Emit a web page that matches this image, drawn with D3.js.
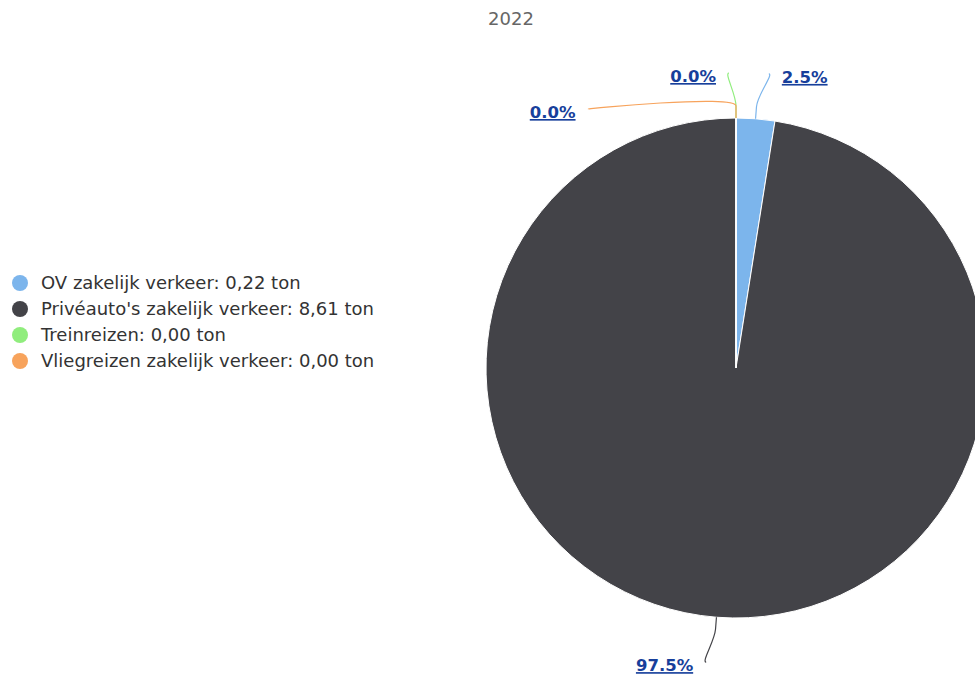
<!DOCTYPE html>
<html>
<head>
<meta charset="utf-8">
<script src="https://cdn.jsdelivr.net/npm/d3@7"></script>
<style>
  body { margin: 0; background: #fff; }
  svg { display: block; font-family: "DejaVu Sans", sans-serif; }
</style>
</head>
<body>
<svg id="chart" width="975" height="677"></svg>
<script>
// data
var title = '2022';
var categories = ['OV zakelijk verkeer', "Privéauto's zakelijk verkeer", 'Treinreizen', 'Vliegreizen zakelijk verkeer'];
var values = [0.22, 8.61, 0.00, 0.00];
var colors = ['#7cb5ec', '#434348', '#90ed7d', '#f7a35c'];

var svg = d3.select('#chart'),
    cx = 736,
    cy = 368,
    radius = 250,
    labelDistance = 42,
    labelGap = 36;

var total = d3.sum(values);
var rows = categories.map(function(c, i) { return {name: c, value: values[i], color: colors[i]}; });

// title
svg.append('text')
    .attr('x', 511)
    .attr('y', 25)
    .attr('text-anchor', 'middle')
    .attr('fill', '#666')
    .style('font-size', '18px')
    .text(title);

// pie
var pie = d3.pie().sort(null).value(function(d) { return d.value; });
var arcs = pie(rows);
var arc = d3.arc().innerRadius(0).outerRadius(radius);

var g = svg.append('g').attr('transform', 'translate(' + cx + ',' + cy + ')');

g.selectAll('path.slice').data(arcs).enter()
  .append('path')
    .attr('class', 'slice')
    .attr('d', arc)
    .attr('fill', function(d) { return d.data.color; })
    .attr('stroke', '#fff')
    .attr('stroke-width', 1)
    .attr('stroke-linejoin', 'round');

// label positions (highcharts-ish: on a circle of radius + distance, pushed apart per side)
var R = radius + labelDistance;
arcs.forEach(function(d) {
    var a = (d.startAngle + d.endAngle) / 2;
    d.mid = a;
    d.side = (a < Math.PI) ? 1 : -1;
    d.ly = -R * Math.cos(a);
    d.touch = [radius * Math.sin(a), -radius * Math.cos(a)];
    d.brk = [(radius + 12) * Math.sin(a), -(radius + 12) * Math.cos(a)];
});
[1, -1].forEach(function(side) {
    var list = arcs.filter(function(d) { return d.side === side; })
        .sort(function(a, b) { return a.ly - b.ly; });
    for (var i = 1; i < list.length; i++) {
        if (list[i].ly - list[i - 1].ly < labelGap) list[i].ly = list[i - 1].ly + labelGap;
    }
});
arcs.forEach(function(d) {
    var dy = Math.min(Math.abs(d.ly), R);
    var pad = d.side > 0 ? 23 : 20;
    d.lx = d.side * (Math.sqrt(R * R - dy * dy) + pad);
    // lower half labels sit a bit further out
    d.ty = d.ly + (d.ly > 0 ? 6 : 0);
});

var fmtPct = d3.format('.1f');

g.selectAll('path.connector').data(arcs).enter()
  .append('path')
    .attr('class', 'connector')
    .attr('fill', 'none')
    .attr('stroke', function(d) { return d.data.color; })
    .attr('stroke-width', 1.2)
    .attr('d', function(d) {
        var x0 = d.lx - d.side * 13, y0 = d.ty - 3;
        return 'M' + x0 + ',' + y0 +
            'C' + (x0 + d.side * 5) + ',' + y0 + ' ' +
            (2 * d.brk[0] - d.touch[0]) + ',' + (2 * d.brk[1] - d.touch[1]) + ' ' +
            d.brk[0] + ',' + d.brk[1] +
            'L' + d.touch[0] + ',' + d.touch[1];
    });

g.selectAll('text.label').data(arcs).enter()
  .append('text')
    .attr('class', 'label')
    .attr('x', function(d) { return d.lx; })
    .attr('y', function(d) { return d.ty + 6; })
    .attr('text-anchor', function(d) { return d.side > 0 ? 'start' : 'end'; })
    .attr('fill', '#173f9b')
    .style('font-size', '16.5px')
    .style('font-weight', 'bold')
    .style('text-decoration', 'underline')
    .text(function(d) { return fmtPct(d.value / total * 100) + '%'; });

// legend
var legend = svg.append('g').attr('transform', 'translate(20,283)');
var item = legend.selectAll('g').data(rows).enter()
  .append('g')
    .attr('transform', function(d, i) { return 'translate(0,' + i * 26 + ')'; });
item.append('circle')
    .attr('r', 8)
    .attr('fill', function(d) { return d.color; });
item.append('text')
    .attr('x', 21)
    .attr('y', 6)
    .attr('fill', '#333')
    .style('font-size', '18px')
    .text(function(d) { return d.name + ': ' + d.value.toFixed(2).replace('.', ',') + ' ton'; });
</script>
</body>
</html>
